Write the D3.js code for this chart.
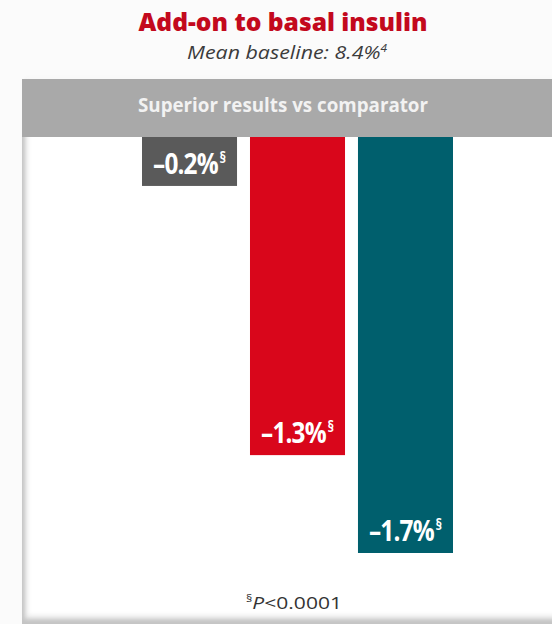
<!DOCTYPE html>
<html>
<head>
<meta charset="utf-8">
<script src="https://cdn.jsdelivr.net/npm/d3@7"></script>
<style>
  html, body { margin: 0; padding: 0; background: #fbfbfb; }
  svg { display: block; }
</style>
</head>
<body>
<svg id="chart" width="552" height="624"></svg>
<script>
// HbA1c change from baseline, add-on to basal insulin
const categories = ["comparator", "armA", "armB"];
const values = [-0.2, -1.3, -1.7];
const barColors = ["#5a5a5a", "#d9061b", "#005f6d"];
const footnoteMark = "§";
const titleText = "Add-on to basal insulin";
const subtitleText = "Mean baseline: 8.4%";
const subtitleRef = "4";
const bandText = "Superior results vs comparator";

const svg = d3.select("#chart");
const W = 552, H = 624;

const defs = svg.append("defs");
const sh = defs.append("filter").attr("id", "soft").attr("x", "-20%").attr("y", "-20%").attr("width", "140%").attr("height", "140%");
sh.append("feGaussianBlur").attr("stdDeviation", 2.2);

// panel frame
const panel = { x: 22, y: 79, w: 560, h: 543 };
svg.append("rect")
  .attr("x", panel.x).attr("y", panel.y).attr("width", panel.w).attr("height", panel.h + 2)
  .attr("fill", "#c4c4c4");
svg.append("rect")
  .attr("x", panel.x + 3).attr("y", panel.y).attr("width", panel.w).attr("height", panel.h - 3)
  .attr("fill", "#ececec").attr("filter", "url(#soft)");
svg.append("rect")
  .attr("x", panel.x + 6).attr("y", panel.y).attr("width", panel.w).attr("height", panel.h - 7)
  .attr("fill", "#ffffff").attr("filter", "url(#soft)");

// header band
const bandTop = 79, zeroY = 137;
svg.append("rect")
  .attr("x", panel.x).attr("y", bandTop).attr("width", W - panel.x).attr("height", zeroY - bandTop)
  .attr("fill", "#a9a9a9");
svg.append("text")
  .attr("x", 283).attr("y", 112)
  .attr("text-anchor", "middle")
  .attr("font-family", "'Open Sans', sans-serif").attr("font-weight", 700)
  .attr("font-size", 19).attr("fill", "#f2f2f2")
  .attr("textLength", 290).attr("lengthAdjust", "spacingAndGlyphs")
  .text(bandText);

// titles
svg.append("text")
  .attr("x", 283).attr("y", 31)
  .attr("text-anchor", "middle")
  .attr("font-family", "'Open Sans', sans-serif").attr("font-weight", 800)
  .attr("font-size", 25).attr("fill", "#c3091d")
  .attr("textLength", 289).attr("lengthAdjust", "spacingAndGlyphs")
  .text(titleText);
const sub = svg.append("text")
  .attr("x", 287).attr("y", 59)
  .attr("text-anchor", "middle")
  .attr("font-family", "'Open Sans', sans-serif").attr("font-style", "italic")
  .attr("font-size", 18).attr("fill", "#3c3c3c")
  .attr("textLength", 200).attr("lengthAdjust", "spacingAndGlyphs");
sub.append("tspan").text(subtitleText);
sub.append("tspan").attr("font-size", 10).attr("dy", -7).text(subtitleRef);

// scales
const x = d3.scaleBand().domain(categories).range([142, 453]).paddingInner(0.12).paddingOuter(0);
const y = d3.scaleLinear().domain([0, -1.7]).range([zeroY, 553]);

const data = categories.map((c, i) => ({ key: c, value: values[i], color: barColors[i] }));

svg.append("g").selectAll("rect").data(data).join("rect")
  .attr("x", d => x(d.key))
  .attr("y", y(0))
  .attr("width", x.bandwidth())
  .attr("height", d => y(d.value) - y(0))
  .attr("fill", d => d.color);

// value labels, condensed horizontally
const fmt = v => "\u2013" + d3.format(".1f")(Math.abs(v)) + "%";
const lbl = svg.append("g").selectAll("text").data(data).join("text")
  .attr("transform", d => `translate(${x(d.key) + x.bandwidth() / 2},${y(d.value) - 12}) scale(0.84,1)`)
  .attr("text-anchor", "middle")
  .attr("font-family", "'Open Sans', sans-serif").attr("font-weight", 700)
  .attr("fill", "#ffffff");
lbl.append("tspan").attr("font-size", 29).attr("letter-spacing", -1).text(d => fmt(d.value));
lbl.append("tspan").attr("font-size", 16).attr("dx", 2).attr("dy", -11).text(footnoteMark);

// footnote
const fn = svg.append("text")
  .attr("x", 294).attr("y", 609)
  .attr("text-anchor", "middle")
  .attr("font-family", "'Open Sans', sans-serif")
  .attr("font-size", 17).attr("fill", "#333333")
  .attr("textLength", 96).attr("lengthAdjust", "spacingAndGlyphs");
fn.append("tspan").attr("font-size", 10).attr("dy", -7).text(footnoteMark);
fn.append("tspan").attr("font-style", "italic").attr("dy", 7).text("P");
fn.append("tspan").text("<0.0001");
</script>
</body>
</html>
